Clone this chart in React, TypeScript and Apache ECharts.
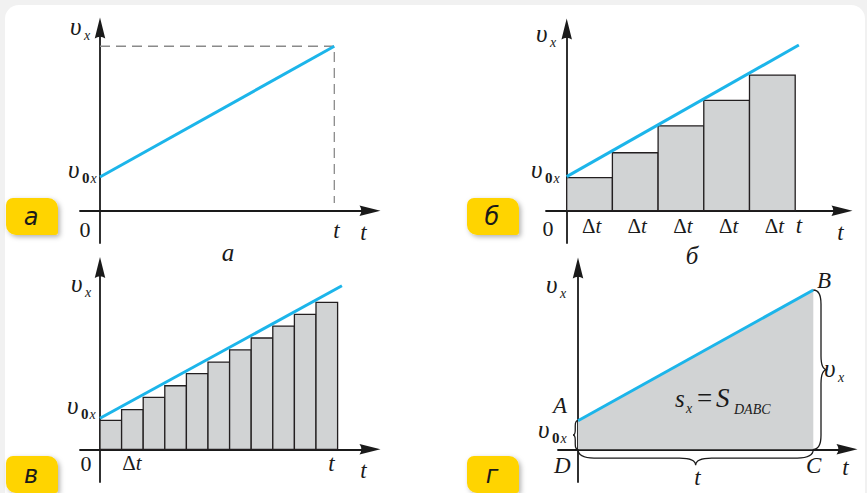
import React, { useEffect, useRef } from "react";
import * as echarts from "echarts";

// ---------------- data ----------------
// panel а: uniform acceleration, v(t) = v0 + a t   (t in units, t_end = 10)
const panelA_line: number[][] = [[0, 2.0], [10, 9.76]];
const panelA_guide: number[][] = [[0, 9.76], [10, 9.76], [10, 0.46]];
// panel б: five steps of width Δt
const panelB_bars: number[] = [1.96, 3.44, 5.04, 6.55, 8.05];
const panelB_line: number[][] = [[0, 2.02], [5.08, 9.83]];
const panelB_ticks: string[] = ["Δt", "Δt", "Δt", "Δt", "Δt"];
// panel в: eleven steps of width Δt
const panelV_bars: number[] = [1.87, 2.56, 3.35, 4.1, 4.88, 5.63, 6.41, 7.18, 7.95, 8.71, 9.48];
const panelV_line: number[][] = [[0, 2.0], [11.2, 10.55]];
// panel г: trapezoid DABC
const panelG_line: number[][] = [[0, 2.0], [10, 11.14]];
const captions: string[] = ["а", "б", "в", "г"];
const belowCaptions: string[] = ["а", "б"];

// ---------------- layout ----------------
const W = 867;
const H = 493;
const AR = 10; // half of arrow length
const ARROW = "path://M5,0L10,20Q5,16.5,0,20Z";
const SERIF = '"Liberation Serif","DejaVu Serif",serif';
const SANS = '"DejaVu Sans","Noto Sans",sans-serif';
const INK = "#1a1a1a";
const CYAN = "#1cb5ea";
const GRAY = "#d1d3d4";

const panels = [
  { ox: 100, oy: 210.7, x0: 80, x1: 380, y0: 18, y1: 243, sx: 23.43, sy: 16.85 },
  { ox: 566.7, oy: 210.7, x0: 546, x1: 852, y0: 19, y1: 243, sx: 45.7, sy: 16.85 },
  { ox: 100, oy: 449.3, x0: 80, x1: 380, y0: 257.5, y1: 482, sx: 21.6, sy: 15.5 },
  { ox: 578, oy: 449.3, x0: 558, x1: 857, y0: 258, y1: 482, sx: 23.53, sy: 14.3 },
];

const grids = panels.map((p) => ({
  left: p.x0,
  top: p.y0 + AR,
  width: p.x1 - AR - p.x0,
  height: p.y1 - (p.y0 + AR),
  containLabel: false,
}));

const axisCommon = {
  type: "value" as const,
  axisTick: { show: false },
  axisLabel: { show: false },
  splitLine: { show: false },
  axisLine: {
    show: true,
    onZero: true,
    symbol: ["none", ARROW],
    symbolSize: [12, 21],
    lineStyle: { color: INK, width: 1.8 },
  },
};

const xAxes = panels.map((p, i) => ({
  ...axisCommon,
  gridIndex: i,
  min: (p.x0 - p.ox) / p.sx,
  max: (p.x1 - AR - p.ox) / p.sx,
}));
const yAxes = panels.map((p, i) => ({
  ...axisCommon,
  gridIndex: i,
  min: -(p.y1 - p.oy) / p.sy,
  max: (p.oy - p.y0 - AR) / p.sy,
}));

function barSeries(values: number[], idx: number) {
  return {
    type: "custom",
    xAxisIndex: idx,
    yAxisIndex: idx,
    z: 3,
    data: values.map((v, i) => [i, v]),
    renderItem: (_params: any, api: any) => {
      const i = api.value(0);
      const v = api.value(1);
      const a = api.coord([i, v]);
      const b = api.coord([i + 1, 0]);
      return {
        type: "rect",
        shape: { x: a[0], y: a[1], width: b[0] - a[0], height: b[1] - a[1] },
        style: { fill: GRAY, stroke: "#231f20", lineWidth: 1.3 },
      };
    },
  };
}

function lineSeries(data: number[][], idx: number, extra: any = {}) {
  return {
    type: "line",
    xAxisIndex: idx,
    yAxisIndex: idx,
    data,
    symbol: "none",
    z: 5,
    lineStyle: { color: CYAN, width: 3 },
    ...extra,
  };
}

// braces for panel г
const gEnd = panelG_line[1];
const gStart = panelG_line[0];
const braceData: number[][] = [
  [gEnd[0], gEnd[1], gEnd[0], 0],
  [0, 0, gEnd[0], 0],
  [gStart[0], gStart[1], 0, 0],
];
const braceDepth = [14, 16, 5];
const braceSide = [-1, 1, 1];

function bracePath(p1: number[], p2: number[], w: number, side: number) {
  const dx = p2[0] - p1[0];
  const dy = p2[1] - p1[1];
  const L = Math.hypot(dx, dy);
  const ux = dx / L;
  const uy = dy / L;
  const nx = -uy * side;
  const ny = ux * side;
  const P = (s: number, h: number) =>
    `${(p1[0] + ux * s + nx * h).toFixed(2)},${(p1[1] + uy * s + ny * h).toFixed(2)}`;
  const r = Math.min(w, L / 4);
  const m = L / 2;
  const h = w * 0.55;
  return `M${P(0, 0)} Q${P(0, h)} ${P(r, h)} L${P(m - r, h)} Q${P(m, h)} ${P(m, w)} Q${P(m, h)} ${P(m + r, h)} L${P(L - r, h)} Q${P(L, h)} ${P(L, 0)}`;
}

const braceSeries = {
  type: "custom",
  xAxisIndex: 3,
  yAxisIndex: 3,
  z: 6,
  data: braceData,
  renderItem: (params: any, api: any) => {
    const p1 = api.coord([api.value(0), api.value(1)]);
    const p2 = api.coord([api.value(2), api.value(3)]);
    const k = params.dataIndex;
    return {
      type: "path",
      shape: { pathData: bracePath(p1, p2, braceDepth[k], braceSide[k]) },
      style: { fill: "none", stroke: INK, lineWidth: 1.3 },
    };
  },
};

// ---------------- texts ----------------
function txt(x: number, base: number, text: string, fs: number, o: any = {}) {
  return {
    type: "text",
    z: 100,
    x,
    y: base - 0.34 * fs,
    style: {
      text,
      fontSize: fs,
      fontFamily: o.family ?? SERIF,
      fontStyle: o.italic === false ? "normal" : "italic",
      fontWeight: o.weight ?? "normal",
      fill: INK,
      align: o.align ?? "left",
      verticalAlign: "middle",
    },
  };
}
function V(x: number, base: number) {
  return [txt(x, base, "υ", 25), txt(x + 14, base + 5, "x", 14)];
}
function V0(x: number, base: number) {
  return [
    txt(x, base, "υ", 25),
    txt(x + 14, base + 5, "0", 15, { italic: false, weight: "bold" }),
    txt(x + 22.5, base + 5, "x", 14),
  ];
}
function dt(cx: number, base: number) {
  return {
    type: "text",
    z: 100,
    x: cx,
    y: base - 0.34 * 21,
    style: {
      text: "{d|Δ}{t|t}",
      align: "center",
      verticalAlign: "middle",
      fill: INK,
      rich: {
        d: { fontSize: 21, fontFamily: SERIF, fontStyle: "normal", fill: INK },
        t: { fontSize: 21, fontFamily: SERIF, fontStyle: "italic", fill: INK },
      },
    },
  };
}
function badge(x: number, y: number, label: string) {
  return [
    {
      type: "rect",
      z: 90,
      shape: { x, y, width: 52, height: 37, r: [7, 10, 3, 10] },
      style: {
        fill: "#ffd400",
        shadowBlur: 5,
        shadowColor: "rgba(0,0,0,0.3)",
        shadowOffsetX: 2,
        shadowOffsetY: 2,
      },
    },
    {
      type: "text",
      z: 100,
      x: x + 25,
      y: y + 19,
      style: {
        text: label,
        fontSize: 24,
        fontFamily: SANS,
        fontStyle: "italic",
        fill: INK,
        align: "center",
        verticalAlign: "middle",
      },
    },
  ];
}

const pB = panels[1];
const graphics: any[] = [
  // panel а
  ...V(70, 35),
  ...V0(68, 178),
  txt(85, 237, "0", 22, { italic: false, align: "center" }),
  txt(336.5, 238, "t", 23, { align: "center" }),
  txt(363.5, 240, "t", 23, { align: "center" }),
  txt(228, 261, belowCaptions[0], 25, { align: "center" }),
  // panel б
  ...V(536, 42),
  ...V0(531, 178),
  txt(548, 236, "0", 22, { italic: false, align: "center" }),
  ...panelB_ticks.map((_, i) => dt(pB.ox + (i + 0.5) * pB.sx + 2, 233)),
  txt(799, 233, "t", 23, { align: "center" }),
  txt(840.5, 240, "t", 23, { align: "center" }),
  txt(692, 264, belowCaptions[1], 25, { align: "center" }),
  // panel в
  ...V(71, 292),
  ...V0(67, 414),
  txt(86, 471, "0", 22, { italic: false, align: "center" }),
  dt(132, 470),
  txt(331.5, 471, "t", 23, { align: "center" }),
  txt(363.5, 478, "t", 23, { align: "center" }),
  // panel г
  ...V(546, 293),
  txt(817, 288, "B", 23),
  txt(553, 413, "A", 23),
  ...V0(538, 438),
  txt(554, 473, "D", 23),
  txt(806, 473, "C", 23),
  txt(845.5, 475, "t", 23, { align: "center" }),
  txt(697.5, 485, "t", 23, { align: "center" }),
  ...V(824, 377),
  txt(675, 407, "s", 25),
  txt(686, 413, "x", 14),
  txt(697, 407, "=", 27, { italic: false }),
  txt(716, 407, "S", 27),
  txt(734, 414, "DABC", 14),
  // badges
  ...badge(6, 198, captions[0]),
  ...badge(467, 198, captions[1]),
  ...badge(6, 456, captions[2]),
  ...badge(467, 456, captions[3]),
];

const option: any = {
  animation: false,
  backgroundColor: "transparent",
  grid: grids,
  xAxis: xAxes,
  yAxis: yAxes,
  series: [
    lineSeries(panelA_guide, 0, {
      z: 4,
      lineStyle: { color: "#8a8a8a", width: 1.3, type: [10, 6] },
    }),
    lineSeries(panelA_line, 0),
    barSeries(panelB_bars, 1),
    lineSeries(panelB_line, 1),
    barSeries(panelV_bars, 2),
    lineSeries(panelV_line, 2),
    lineSeries(panelG_line, 3, { areaStyle: { color: GRAY, opacity: 1 } }),
    braceSeries,
  ],
  graphic: { elements: graphics },
};

export default function App() {
  const ref = useRef<HTMLDivElement>(null);
  useEffect(() => {
    if (!ref.current) return;
    const chart = echarts.init(ref.current, undefined, { renderer: "svg" });
    chart.setOption(option);
    return () => chart.dispose();
  }, []);
  return (
    <div style={{ position: "fixed", left: 0, top: 0, width: W, height: H, background: "#f1f1f1", overflow: "hidden" }}>
      <div style={{ position: "absolute", left: 5, top: 5, width: 860, height: 520, background: "#ffffff", borderRadius: 14 }} />
      <div ref={ref} style={{ position: "absolute", left: 0, top: 0, width: W, height: H }} />
    </div>
  );
}
